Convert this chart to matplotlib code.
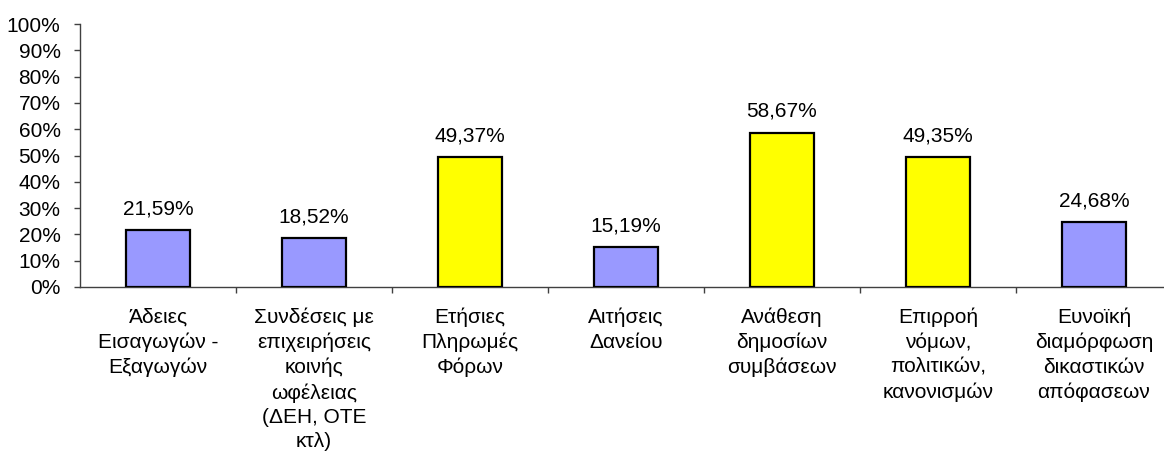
import matplotlib
matplotlib.use("Agg")
import matplotlib.pyplot as plt
from matplotlib.ticker import FixedLocator, FuncFormatter

categories = [
    "Άδειες\nΕισαγωγών -\nΕξαγωγών",
    "Συνδέσεις με\nεπιχειρήσεις\nκοινής\nωφέλειας\n(ΔΕΗ, ΟΤΕ\nκτλ)",
    "Ετήσιες\nΠληρωμές\nΦόρων",
    "Αιτήσεις\nΔανείου",
    "Ανάθεση\nδημοσίων\nσυμβάσεων",
    "Επιρροή\nνόμων,\nπολιτικών,\nκανονισμών",
    "Ευνοϊκή\nδιαμόρφωση\nδικαστικών\nαπόφασεων",
]
values = [21.59, 18.52, 49.37, 15.19, 58.67, 49.35, 24.68]
highlight = [False, False, True, False, True, True, False]
y_ticks = [0, 10, 20, 30, 40, 50, 60, 70, 80, 90, 100]

BLUE = "#9999FF"
YELLOW = "#FFFF00"
FS = 15

plt.rcParams["font.family"] = ["Liberation Sans", "DejaVu Sans"]

fig = plt.figure(figsize=(11.64, 4.62), dpi=100)
ax = fig.add_axes([80 / 1164, 175 / 462, 1092 / 1164, 263 / 462])

x = list(range(len(values)))
colors = [YELLOW if h else BLUE for h in highlight]
bars = ax.bar(x, values, width=0.41, color=colors, edgecolor="black", linewidth=1.6, zorder=3)

for xi, v in zip(x, values):
    ax.annotate(f"{v:.2f}".replace(".", ",") + "%", (xi, v), xytext=(0, 8.5),
                textcoords="offset points", ha="center", va="bottom", fontsize=FS)

ax.set_xlim(-0.5, len(values) - 0.5)
ax.set_ylim(0, 100)
ax.set_yticks(y_ticks)
ax.yaxis.set_major_formatter(FuncFormatter(lambda v, p: f"{int(v)}%"))
ax.tick_params(axis="y", labelsize=FS, length=4, width=1, color="#404040", pad=10)

ax.xaxis.set_major_locator(FixedLocator([i + 0.5 for i in range(len(values) - 1)]))
ax.xaxis.set_major_formatter(FuncFormatter(lambda v, p: ""))
ax.xaxis.set_minor_locator(FixedLocator(x))
ax.set_xticklabels(categories, minor=True)
ax.tick_params(axis="x", which="major", length=4, width=1, color="#404040", direction="out")
ax.tick_params(axis="x", which="minor", length=0, labelsize=FS, pad=15)
for lbl in ax.get_xticklabels(minor=True):
    lbl.set_linespacing(1.36)

for s in ["top", "right"]:
    ax.spines[s].set_visible(False)
for s in ["left", "bottom"]:
    ax.spines[s].set_color("#404040")
    ax.spines[s].set_linewidth(1)

fig.savefig("out.png", dpi=100)
